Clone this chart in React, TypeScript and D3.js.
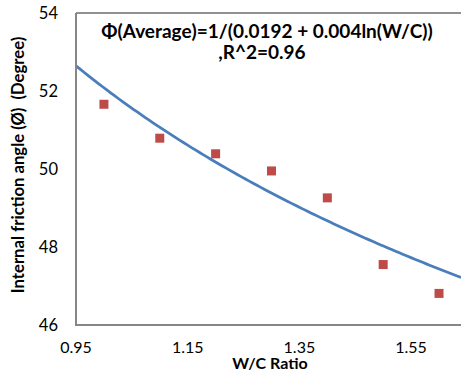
import React, { useEffect, useRef } from 'react'
import * as d3 from 'd3'

const wcRatio = [1.0, 1.1, 1.2, 1.3, 1.4, 1.5, 1.6]
const frictionAngle = [51.66, 50.79, 50.39, 49.95, 49.26, 47.55, 46.81]
const xTicks = [0.95, 1.15, 1.35, 1.55]
const yTicks = [46, 48, 50, 52, 54]
// fitted curve: phi = 1 / (a + b ln(W/C))
const fitA = 0.0192
const fitB = 0.004

const width = 461, height = 375
const margin = { top: 13, right: 0, bottom: 50, left: 76 }

export default function App() {
    const ref = useRef<SVGSVGElement>(null)

    useEffect(() => {
        const svg = d3.select(ref.current)
        svg.selectAll('*').remove()

        const x = d3.scaleLinear()
            .domain([0.95, 0.95 + (width - margin.left) / 558.5])
            .range([margin.left, width - margin.right])
        const y = d3.scaleLinear()
            .domain([46, 54])
            .range([height - margin.bottom, margin.top])

        const font = 'Lato, "Open Sans", sans-serif'

        // plot border (top)
        svg.append('line')
            .attr('x1', margin.left).attr('x2', width)
            .attr('y1', margin.top).attr('y2', margin.top)
            .attr('stroke', '#222').attr('stroke-width', 1)

        // fitted curve
        const xs = d3.range(0, 101).map(i => x.domain()[0] + i * (x.domain()[1] - x.domain()[0]) / 100)
        const line = d3.line<number>()
            .x(d => x(d))
            .y(d => y(1 / (fitA + fitB * Math.log(d))))
        svg.append('path')
            .datum(xs)
            .attr('d', line)
            .attr('fill', 'none')
            .attr('stroke', '#4A7EBB')
            .attr('stroke-width', 2.75)

        // points
        svg.append('g')
            .selectAll('rect')
            .data(wcRatio)
            .join('rect')
            .attr('x', (d) => x(d) - 4.5)
            .attr('y', (d, i) => y(frictionAngle[i]) - 4.5)
            .attr('width', 9)
            .attr('height', 9)
            .attr('fill', '#BE4B48')

        // axes lines
        svg.append('line')
            .attr('x1', margin.left).attr('x2', margin.left)
            .attr('y1', margin.top).attr('y2', y(46))
            .attr('stroke', '#868686').attr('stroke-width', 2)
        svg.append('line')
            .attr('x1', margin.left - 1).attr('x2', width)
            .attr('y1', y(46)).attr('y2', y(46))
            .attr('stroke', '#868686').attr('stroke-width', 2)

        // tick labels
        svg.append('g')
            .attr('font-family', font)
            .attr('font-size', 16.5)
            .attr('fill', '#000')
            .attr('text-anchor', 'end')
            .selectAll('text')
            .data(yTicks)
            .join('text')
            .attr('x', 58)
            .attr('y', d => y(d) + 6)
            .text(d => d)

        svg.append('g')
            .attr('font-family', font)
            .attr('font-size', 16)
            .attr('fill', '#000')
            .attr('text-anchor', 'middle')
            .selectAll('text')
            .data(xTicks)
            .join('text')
            .attr('x', d => x(d))
            .attr('y', 353)
            .text(d => d.toFixed(2))

        // axis titles
        svg.append('text')
            .attr('x', 270).attr('y', 369)
            .attr('text-anchor', 'middle')
            .attr('font-family', font)
            .attr('font-weight', 'bold')
            .attr('font-size', 16)
            .text('W/C Ratio')

        svg.append('text')
            .attr('transform', `translate(24,165) rotate(-90)`)
            .attr('text-anchor', 'middle')
            .attr('font-family', font)
            .attr('font-weight', 'bold')
            .attr('font-size', 16.7)
            .attr('xml:space', 'preserve')
            .style('white-space', 'pre')
            .text('Internal friction angle (Ø)  (Degree)')

        // equation annotation
        const eq = svg.append('text')
            .attr('font-family', font)
            .attr('font-weight', 'bold')
            .attr('font-size', 19)
            .attr('text-anchor', 'middle')
        eq.append('tspan').attr('x', 267).attr('y', 38)
            .text('Φ(Average)=1/(0.0192 + 0.004ln(W/C))')
        eq.append('tspan').attr('x', 262).attr('y', 59)
            .text(',R^2=0.96')
    }, [])

    return (
        <svg ref={ref} width={width} height={height}
            style={{ position: 'absolute', left: 0, top: 0, background: '#fff' }} />
    )
}
